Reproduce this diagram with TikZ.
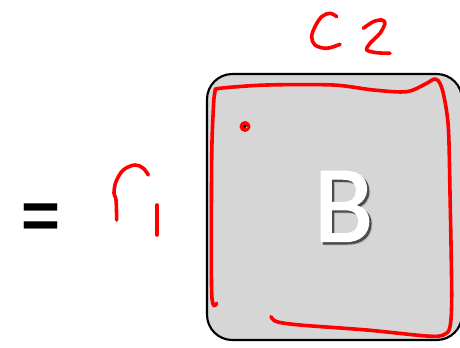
\documentclass[tikz,border=0pt]{standalone}
\usepackage{fontspec}
\setmainfont{Liberation Sans}
\newfontfamily\carlito[FakeBold=1.4]{Carlito}
\definecolor{boxgray}{HTML}{D6D6D6}
\definecolor{ink}{HTML}{FF0000}
\tikzset{
  ink/.style={draw=ink, line width=2.7pt, line cap=round, line join=round},
  panel/.style={draw=black, fill=boxgray, line width=1.6pt, rounded corners=19pt},
}
\newcommand{\shadowletter}[1]{\rlap{\hspace{2.4pt}\raisebox{-2.4pt}{\textcolor{black!25}{#1}}}\rlap{\hspace{1.7pt}\raisebox{-1.7pt}{\textcolor{black!70}{#1}}}\textcolor{white}{#1}}
\begin{document}
\begin{tikzpicture}[x=0.75pt,y=-0.75pt]
\useasboundingbox (0,0) rectangle (460,347);
% panel
\draw[panel] (207,74) rectangle (462,340);
% letter B with shadow
\node[font=\carlito\fontsize{82}{82}\selectfont, inner sep=0] (bletter) at (343.5,208) {\shadowletter{B}};
% equals sign
\node[font=\bfseries\fontsize{50}{50}\selectfont, inner sep=0] (eq) at (40.5,221) {=};
% red ink strokes
\draw[ink] plot[smooth, tension=0.5] coordinates {(216.7,303.3) (211.7,293.3) (211.7,160) (213.3,110) (215,91.7) (220,88.3) (266.7,85) (333.3,85) (373.3,90) (406.7,91.7) (426.7,83.3) (433.3,79.3) (438.3,80.7) (443.3,93.3) (448.3,126.7) (450,193.3) (451.7,293.3) (450,326.7) (443.3,335) (426.7,336) (366.7,330) (300,325) (276.7,321.7) (271,316.7)};
\fill[ink] (245,126.5) circle (3.6);
\fill[boxgray] (246.5,127.5) circle (0.9);
% C2
\draw[ink] plot[smooth, tension=0.6] coordinates {(336.7,16.7) (330,13.3) (321.7,16.7) (315,26.7) (311.7,36.7) (315,45) (326.7,48.3) (340,44.3)};
\draw[ink] plot[smooth, tension=0.5] coordinates {(363.3,28.3) (373.3,21.7) (381.7,20) (385,23.3) (380,33.3) (370,43.3) (366.7,50) (376.7,52.7) (390,53.3)};
% n1
\draw[ink] plot[smooth, tension=0.6] coordinates {(116.7,220) (116,200) (114,193.3) (116,181.7) (123.3,170) (135,165) (143.3,168.3) (148.3,175)};
\draw[ink] (156.7,205) -- (156.7,235);
\end{tikzpicture}
\end{document}
